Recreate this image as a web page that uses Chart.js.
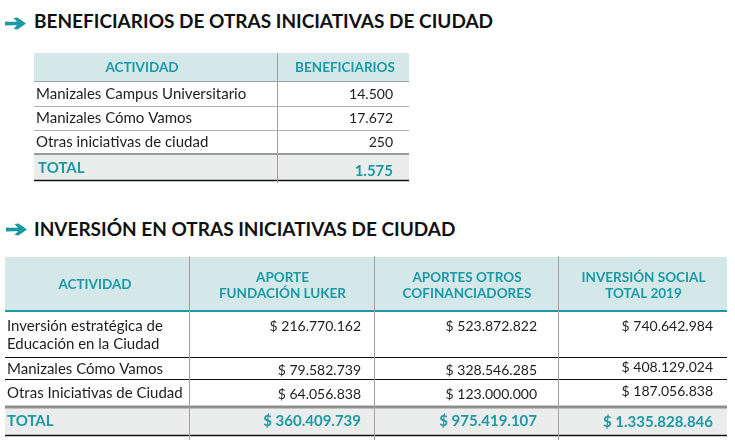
<!DOCTYPE html>
<html>
<head>
<meta charset="utf-8">
<script src="https://cdn.jsdelivr.net/npm/chart.js@4/dist/chart.umd.min.js"></script>
<style>
  html,body{margin:0;padding:0;background:#fff;width:735px;height:446px;overflow:hidden;}
  .h{position:absolute;left:34px;font-family:Lato,"Noto Sans",sans-serif;font-weight:700;font-size:19px;color:#111;white-space:nowrap;line-height:1;}
  .arr{position:absolute;}
  canvas{position:absolute;}
</style>
</head>
<body>
<svg class="arr" style="left:5px;top:17px" width="22" height="13" viewBox="0 0 22 13"><path d="M0 4.5 Q6 5 12 4.8 L8.5 1 L12.5 0.5 L21 6.5 L12.5 12.5 L8.5 12 L12 8.2 Q6 8 0 8.5 Z" fill="#1b9aa5"/></svg>
<div class="h" id="h1" style="top:11px">BENEFICIARIOS DE OTRAS INICIATIVAS DE CIUDAD</div>
<svg class="arr" style="left:6px;top:223px" width="22" height="13" viewBox="0 0 22 13"><path d="M0 4.5 Q6 5 12 4.8 L8.5 1 L12.5 0.5 L21 6.5 L12.5 12.5 L8.5 12 L12 8.2 Q6 8 0 8.5 Z" fill="#1b9aa5"/></svg>
<div class="h" id="h2" style="top:219px">INVERSIÓN EN OTRAS INICIATIVAS DE CIUDAD</div>
<canvas id="t1" width="376" height="131" style="left:34px;top:53px"></canvas>
<canvas id="t2" width="724" height="186" style="left:5px;top:256px"></canvas>
<script>
// ---------- DATA ----------
const T1_HEADERS = ['ACTIVIDAD', 'BENEFICIARIOS'];
const T1_ACTIVIDADES = ['Manizales Campus Universitario', 'Manizales Cómo Vamos', 'Otras iniciativas de ciudad'];
const T1_BENEFICIARIOS = [14500, 17672, 250];
const T1_TOTAL_LABEL = 'TOTAL';
const T1_TOTAL = 1575;

const T2_HEADERS = [['ACTIVIDAD'], ['APORTE', 'FUNDACIÓN LUKER'], ['APORTES OTROS', 'COFINANCIADORES'], ['INVERSIÓN SOCIAL', 'TOTAL 2019']];
const T2_ACTIVIDADES = [['Inversión estratégica de', 'Educación en la Ciudad'], ['Manizales Cómo Vamos'], ['Otras Iniciativas de Ciudad']];
const T2_APORTE_LUKER = [216770162, 79582739, 64056838];
const T2_APORTES_OTROS = [523872822, 328546285, 123000000];
const T2_INVERSION_TOTAL = [740642984, 408129024, 187056838];
const T2_TOTAL_LABEL = 'TOTAL';
const T2_TOTALES = [360409739, 975419107, 1335828846];

// ---------- STYLE / LAYOUT ----------
const TEAL = '#1b9aa5';
const HEAD_BG = '#d4e8ea';
const TOTAL_BG = '#ebeded';
const TXT = '#1e1e1e';
const DIV = '#a89f98';
const FONT = 'Lato, "Noto Sans", sans-serif';
const NUMF = '14px ' + FONT;

function fmt(n) { return n.toString().replace(/\B(?=(\d{3})+(?!\d))/g, '.'); }

function tableChart(id, W, H, drawFn) {
  return new Chart(document.getElementById(id), {
    type: 'scatter',
    data: { datasets: [] },
    options: {
      responsive: false, animation: false, events: [],
      layout: { padding: 0 },
      plugins: { legend: { display: false }, tooltip: { enabled: false } },
      scales: {
        x: { type: 'linear', min: 0, max: W, display: false, offset: false },
        y: { type: 'linear', min: 0, max: H, reverse: true, display: false, offset: false }
      }
    },
    plugins: [{ id: 'table', afterDraw(chart) { drawFn(chart); } }]
  });
}

function helpers(chart) {
  const ctx = chart.ctx, sx = chart.scales.x, sy = chart.scales.y;
  const X = v => sx.getPixelForValue(v), Y = v => sy.getPixelForValue(v);
  return {
    ctx, X, Y,
    rect(x0, y0, x1, y1, c) { ctx.fillStyle = c; ctx.fillRect(X(x0), Y(y0), X(x1) - X(x0), Y(y1) - Y(y0)); },
    hline(x0, x1, y, c, w) { ctx.strokeStyle = c; ctx.lineWidth = w; ctx.beginPath(); ctx.moveTo(X(x0), Y(y)); ctx.lineTo(X(x1), Y(y)); ctx.stroke(); },
    vline(x, y0, y1, c, w) { ctx.strokeStyle = c; ctx.lineWidth = w; ctx.beginPath(); ctx.moveTo(X(x), Y(y0)); ctx.lineTo(X(x), Y(y1)); ctx.stroke(); },
    text(s, x, y, align, font, c) { ctx.font = font; ctx.fillStyle = c; ctx.textAlign = align; ctx.textBaseline = 'alphabetic'; ctx.fillText(s, X(x), Y(y)); }
  };
}

// Table 1 layout (px units of the table's own scales)
const T1_COLS = [0, 243, 375];
const T1_ROWS = [0, 28, 53, 77, 101, 127];
tableChart('t1', 376, 131, chart => {
  const h = helpers(chart);
  h.rect(T1_COLS[0], T1_ROWS[0], T1_COLS[2], T1_ROWS[1], HEAD_BG);
  h.rect(T1_COLS[0], T1_ROWS[4], T1_COLS[2], T1_ROWS[5], TOTAL_BG);
  h.hline(0, 375, 28.5, '#9aa0a0', 1);
  h.hline(0, 375, 53.5, '#b3b3b3', 1);
  h.hline(0, 375, 77.5, '#b3b3b3', 1);
  h.hline(0, 375, 101, '#9a9a9a', 2);
  h.hline(0, 375, 127.5, '#111', 1.5);
  h.vline(243.5, 0, 130, DIV, 1);
  const hf = 'bold 13.5px ' + FONT;
  h.text(T1_HEADERS[0], 108, 19, 'center', hf, TEAL);
  h.text(T1_HEADERS[1], 311, 19, 'center', hf, TEAL);
  const base = [46, 70, 94];
  T1_ACTIVIDADES.forEach((a, i) => {
    h.text(a, 2, base[i], 'left', '15px ' + FONT, TXT);
    h.text(fmt(T1_BENEFICIARIOS[i]), 359, base[i], 'right', NUMF, TXT);
  });
  h.text(T1_TOTAL_LABEL, 4, 120, 'left', 'bold 15px ' + FONT, TEAL);
  h.text(fmt(T1_TOTAL), 359, 123, 'right', 'bold 15px ' + FONT, TEAL);
});

// Table 2 layout
const T2_COLS = [0, 184, 369, 553, 722];
const T2_ROWS = [1, 55, 101, 123, 151, 179];
tableChart('t2', 724, 186, chart => {
  const h = helpers(chart);
  h.rect(0, T2_ROWS[0], 722, T2_ROWS[1], HEAD_BG);
  h.rect(0, T2_ROWS[4], 722, T2_ROWS[5], TOTAL_BG);
  h.hline(0, 722, 55, TEAL, 2);
  h.hline(0, 722, 101.5, '#111', 1);
  h.hline(0, 722, 123.5, '#111', 1);
  h.hline(0, 722, 151, '#8f8f8f', 3);
  h.hline(0, 722, 179.5, '#111', 1.5);
  [184, 369, 553].forEach(x => h.vline(x + 0.5, 0, 184, DIV, 1));
  const hf = 'bold 13.5px ' + FONT;
  T2_HEADERS.forEach((lines, c) => {
    const cx = (T2_COLS[c] + T2_COLS[c + 1]) / 2 + (c === 0 ? -2 : 1);
    if (lines.length === 1) h.text(lines[0], cx, 33, 'center', hf, TEAL);
    else { h.text(lines[0], cx, 26, 'center', hf, TEAL); h.text(lines[1], cx, 42, 'center', hf, TEAL); }
  });
  const f = '15px ' + FONT;
  const base = [75, 118, 142];
  T2_ACTIVIDADES.forEach((lines, i) => {
    lines.forEach((l, k) => h.text(l, 2, base[i] + k * 18, 'left', f, TXT));
    h.text('$ ' + fmt(T2_APORTE_LUKER[i]), 356, base[i] + (i ? 1 : 0), 'right', NUMF, TXT);
    h.text('$ ' + fmt(T2_APORTES_OTROS[i]), 532, base[i] + (i ? 1 : 0), 'right', NUMF, TXT);
    h.text('$ ' + fmt(T2_INVERSION_TOTAL[i]), 708, base[i] - (i ? 2 : 0), 'right', NUMF, TXT);
  });
  const bf = 'bold 15px ' + FONT;
  h.text(T2_TOTAL_LABEL, 2, 170, 'left', bf, TEAL);
  h.text('$ ' + fmt(T2_TOTALES[0]), 356, 170, 'right', bf, TEAL);
  h.text('$ ' + fmt(T2_TOTALES[1]), 532, 170, 'right', bf, TEAL);
  h.text('$ ' + fmt(T2_TOTALES[2]), 708, 171, 'right', bf, TEAL);
});
</script>
</body>
</html>
